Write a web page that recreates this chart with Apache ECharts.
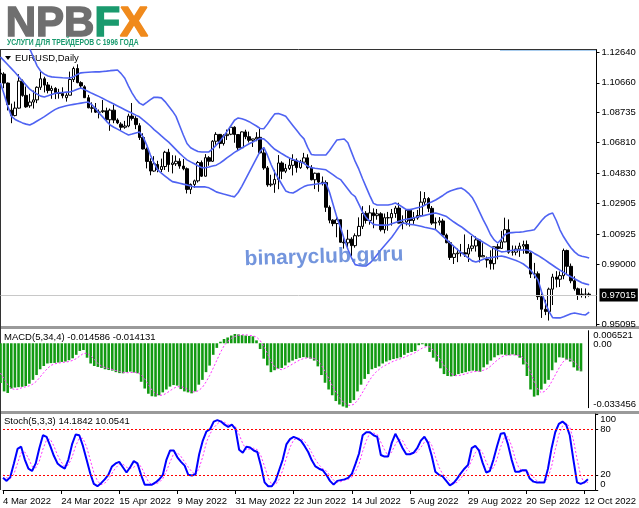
<!DOCTYPE html>
<html><head><meta charset="utf-8">
<script src="https://cdn.jsdelivr.net/npm/echarts/dist/echarts.min.js"></script>
<style>html,body{margin:0;padding:0;background:#fff}#c{width:639px;height:508px}</style>
</head><body><div id="c"></div>
<script>
// ---- DATA (EURUSD, Daily) ----
const tickLabels = ['4 Mar 2022','24 Mar 2022','15 Apr 2022','9 May 2022','31 May 2022','22 Jun 2022','14 Jul 2022','5 Aug 2022','29 Aug 2022','20 Sep 2022','12 Oct 2022'];
const priceTicks = [1.12640,1.10660,1.08735,1.06810,1.04830,1.02905,1.00925,0.99000,0.95095];
const macdRange = [-0.033456, 0.006521];
const macdZero = [0];
const stochRange = [0, 100];
const stochLevels = [20, 80];
const lastPrice = 0.97015;

const opens = [1.1128,1.1122,1.1064,1.0890,1.0855,1.0903,1.1077,1.0985,1.0918,1.0942,
1.0956,1.1037,1.1092,1.1052,1.1016,1.1030,1.1004,1.0997,1.0970,1.0986,
1.1087,1.1158,1.1067,1.1040,1.0970,1.0905,1.0902,1.0877,1.0880,1.0886,
1.0828,1.0890,1.0826,1.0800,1.0780,1.0788,1.0852,1.0837,1.0790,1.0714,
1.0640,1.0560,1.0498,1.0540,1.0508,1.0527,1.0619,1.0540,1.0545,1.0561,
1.0530,1.0513,1.0380,1.0412,1.0435,1.0553,1.0465,1.0584,1.0561,1.0690,
1.0734,1.0675,1.0726,1.0735,1.0780,1.0733,1.0648,1.0750,1.0719,1.0696,
1.0705,1.0715,1.0615,1.0518,1.0409,1.0414,1.0444,1.0550,1.0497,1.0515,
1.0535,1.0567,1.0520,1.0555,1.0583,1.0520,1.0442,1.0484,1.0427,1.0424,
1.0265,1.0182,1.0160,1.0185,1.0040,1.0036,1.0060,1.0018,1.0082,1.0142,
1.0226,1.0180,1.0229,1.0211,1.0223,1.0121,1.0198,1.0197,1.0225,1.0260,
1.0163,1.0170,1.0246,1.0180,1.0196,1.0212,1.0298,1.0321,1.0258,1.0163,
1.0168,1.0177,1.0086,1.0037,0.9942,0.9966,0.9971,0.9972,0.9964,1.0001,
1.0016,1.0055,0.9946,0.9930,0.9925,0.9902,1.0011,1.0000,1.0042,1.0121,
0.9976,0.9976,0.9996,1.0015,1.0025,0.9970,0.9835,0.9837,0.9690,0.9609,
0.9594,0.9738,0.9816,0.9802,0.9825,0.9987,0.9885,0.9792,0.9740,0.9702,
0.9706,0.9706];
const highs = [1.1156,1.1134,1.1068,1.0932,1.0945,1.1121,1.1087,1.1042,1.0995,1.1016,
1.1043,1.1137,1.1105,1.1071,1.1047,1.1038,1.1027,1.1037,1.0999,1.1138,
1.1170,1.1185,1.1076,1.1050,1.0988,1.0940,1.0936,1.0894,1.0955,1.0906,
1.0900,1.0925,1.0837,1.0812,1.0821,1.0867,1.0936,1.0851,1.0806,1.0741,
1.0650,1.0580,1.0594,1.0564,1.0578,1.0628,1.0641,1.0600,1.0598,1.0580,
1.0576,1.0521,1.0418,1.0443,1.0563,1.0566,1.0607,1.0594,1.0697,1.0748,
1.0736,1.0735,1.0765,1.0787,1.0786,1.0736,1.0753,1.0764,1.0752,1.0705,
1.0748,1.0774,1.0639,1.0530,1.0474,1.0506,1.0601,1.0561,1.0544,1.0582,
1.0606,1.0580,1.0570,1.0615,1.0606,1.0536,1.0488,1.0486,1.0463,1.0438,
1.0277,1.0188,1.0200,1.0186,1.0072,1.0120,1.0072,1.0097,1.0200,1.0272,
1.0240,1.0278,1.0258,1.0254,1.0233,1.0225,1.0235,1.0254,1.0274,1.0294,
1.0213,1.0254,1.0253,1.0235,1.0248,1.0368,1.0363,1.0330,1.0273,1.0199,
1.0202,1.0191,1.0096,1.0049,1.0018,0.9999,1.0029,1.0090,1.0028,1.0080,
1.0078,1.0057,1.0034,0.9948,0.9988,1.0011,1.0030,1.0113,1.0198,1.0187,
1.0019,1.0018,1.0037,1.0050,1.0051,0.9976,0.9907,0.9852,0.9710,0.9670,
0.9748,0.9837,0.9854,0.9852,0.9999,0.9992,0.9903,0.9821,0.9748,0.9744,
0.9743,0.9716];
const lows = [1.1057,1.1031,1.0888,1.0806,1.0850,1.0900,1.0976,1.0905,1.0905,1.0900,
1.0935,1.1020,1.1004,1.0998,1.0963,1.0961,1.0964,1.0966,1.0945,1.0986,
1.1071,1.1063,1.1027,1.0968,1.0902,1.0874,1.0872,1.0837,1.0872,1.0821,
1.0757,1.0806,1.0800,1.0760,1.0770,1.0780,1.0823,1.0768,1.0698,1.0637,
1.0515,1.0471,1.0493,1.0490,1.0492,1.0505,1.0493,1.0483,1.0531,1.0513,
1.0503,1.0354,1.0350,1.0389,1.0424,1.0460,1.0462,1.0532,1.0557,1.0667,
1.0644,1.0662,1.0698,1.0729,1.0680,1.0627,1.0642,1.0703,1.0682,1.0653,
1.0690,1.0612,1.0506,1.0397,1.0397,1.0358,1.0381,1.0446,1.0485,1.0505,
1.0470,1.0488,1.0512,1.0549,1.0509,1.0438,1.0382,1.0365,1.0405,1.0235,
1.0162,1.0143,1.0072,1.0038,0.9999,0.9998,0.9952,1.0005,1.0076,1.0125,
1.0160,1.0153,1.0130,1.0185,1.0109,1.0097,1.0114,1.0147,1.0197,1.0161,
1.0123,1.0148,1.0141,1.0158,1.0185,1.0202,1.0273,1.0234,1.0152,1.0123,
1.0148,1.0078,1.0033,0.9926,0.9900,0.9912,0.9948,0.9946,0.9913,0.9981,
0.9980,0.9910,0.9945,0.9877,0.9864,0.9864,0.9930,1.0000,1.0040,0.9966,
0.9954,0.9956,0.9946,0.9966,0.9966,0.9810,0.9807,0.9669,0.9553,0.9571,
0.9536,0.9636,0.9749,0.9752,0.9802,0.9835,0.9776,0.9728,0.9669,0.9684,
0.9680,0.9690];
const closes = [1.1122,1.1064,1.0926,1.0855,1.0903,1.1077,1.0985,1.0911,1.0942,1.0956,
1.1037,1.1092,1.1051,1.1016,1.1030,1.1004,1.0997,1.0983,1.0986,1.1087,
1.1158,1.1067,1.1046,1.0970,1.0905,1.0902,1.0877,1.0877,1.0886,1.0828,
1.0890,1.0826,1.0808,1.0780,1.0788,1.0852,1.0837,1.0797,1.0714,1.0640,
1.0560,1.0498,1.0545,1.0508,1.0527,1.0619,1.0540,1.0550,1.0561,1.0530,
1.0513,1.0380,1.0412,1.0435,1.0553,1.0465,1.0584,1.0561,1.0690,1.0734,
1.0675,1.0726,1.0735,1.0780,1.0733,1.0648,1.0750,1.0719,1.0696,1.0705,
1.0715,1.0615,1.0518,1.0409,1.0414,1.0444,1.0550,1.0497,1.0515,1.0535,
1.0567,1.0520,1.0555,1.0583,1.0520,1.0442,1.0484,1.0427,1.0424,1.0265,
1.0182,1.0160,1.0185,1.0040,1.0036,1.0060,1.0018,1.0082,1.0142,1.0226,
1.0180,1.0229,1.0211,1.0223,1.0121,1.0198,1.0197,1.0225,1.0260,1.0163,
1.0170,1.0246,1.0180,1.0196,1.0212,1.0298,1.0321,1.0258,1.0163,1.0168,
1.0177,1.0086,1.0037,0.9942,0.9966,0.9971,0.9972,0.9964,1.0001,1.0016,
1.0055,0.9946,0.9954,0.9925,0.9902,1.0011,1.0000,1.0042,1.0121,0.9976,
0.9976,0.9996,1.0015,1.0025,0.9970,0.9835,0.9837,0.9690,0.9609,0.9594,
0.9738,0.9816,0.9802,0.9825,0.9987,0.9885,0.9792,0.9740,0.9702,0.9706,
0.9706,0.97015];

const bbUpper = [1.1480,1.1460,1.1440,1.1420,1.1400,1.1375,1.1345,1.1315,1.1285,1.1230,
1.1175,1.1140,1.1122,1.1110,1.1104,1.1102,1.1100,1.1098,1.1097,1.1097,
1.1105,1.1120,1.1130,1.1132,1.1134,1.1135,1.1136,1.1136,1.1139,1.1141,
1.1144,1.1146,1.1148,1.1125,1.1095,1.1045,1.1000,1.0962,1.0935,1.0923,
1.0940,1.0958,1.0973,1.0972,1.0969,1.0945,1.0915,1.0885,1.0850,1.0790,
1.0730,1.0675,1.0648,1.0635,1.0624,1.0621,1.0621,1.0621,1.0640,1.0665,
1.0690,1.0720,1.0755,1.0790,1.0825,1.0840,1.0834,1.0826,1.0816,1.0802,
1.0788,1.0772,1.0770,1.0800,1.0835,1.0866,1.0868,1.0860,1.0850,1.0820,
1.0790,1.0760,1.0730,1.0705,1.0650,1.0605,1.0601,1.0601,1.0601,1.0601,
1.0630,1.0665,1.0698,1.0701,1.0704,1.0680,1.0620,1.0560,1.0510,1.0450,
1.0395,1.0340,1.0290,1.0280,1.0280,1.0280,1.0280,1.0285,1.0292,1.0280,
1.0265,1.0250,1.0250,1.0256,1.0262,1.0267,1.0278,1.0290,1.0300,1.0312,
1.0326,1.0341,1.0358,1.0370,1.0378,1.0385,1.0389,1.0375,1.0355,1.0328,
1.0285,1.0235,1.0185,1.0140,1.0090,1.0055,1.0035,1.0060,1.0090,1.0100,
1.0102,1.0104,1.0105,1.0108,1.0112,1.0116,1.0120,1.0150,1.0180,1.0205,
1.0220,1.0228,1.0180,1.0120,1.0075,1.0038,1.0005,0.9978,0.9958,0.9950,
0.9945,0.9939];
const bbMiddle = [1.1232,1.1207,1.1182,1.1157,1.1132,1.1105,1.1078,1.1051,1.1025,1.1008,
1.0993,1.0980,1.0975,1.0982,1.0990,1.0998,1.1002,1.1004,1.1006,1.1007,
1.1015,1.1025,1.1033,1.1022,1.1010,1.0998,1.0988,1.0977,1.0965,1.0953,
1.0941,1.0929,1.0917,1.0905,1.0893,1.0881,1.0870,1.0858,1.0847,1.0827,
1.0808,1.0788,1.0765,1.0745,1.0724,1.0704,1.0684,1.0660,1.0636,1.0612,
1.0590,1.0570,1.0557,1.0545,1.0532,1.0520,1.0519,1.0524,1.0530,1.0536,
1.0549,1.0566,1.0584,1.0601,1.0618,1.0632,1.0646,1.0660,1.0674,1.0685,
1.0697,1.0707,1.0705,1.0685,1.0660,1.0638,1.0624,1.0609,1.0595,1.0582,
1.0572,1.0565,1.0557,1.0548,1.0530,1.0520,1.0516,1.0513,1.0510,1.0506,
1.0490,1.0473,1.0456,1.0443,1.0413,1.0383,1.0352,1.0333,1.0285,1.0235,
1.0198,1.0175,1.0155,1.0151,1.0150,1.0150,1.0151,1.0159,1.0167,1.0175,
1.0183,1.0188,1.0192,1.0197,1.0202,1.0208,1.0213,1.0219,1.0224,1.0228,
1.0221,1.0214,1.0205,1.0187,1.0170,1.0154,1.0140,1.0122,1.0104,1.0086,
1.0068,1.0054,1.0040,1.0026,1.0012,1.0000,0.9988,0.9978,0.9980,0.9984,
0.9988,0.9990,0.9990,0.9990,0.9990,0.9982,0.9968,0.9955,0.9940,0.9925,
0.9908,0.9892,0.9876,0.9861,0.9846,0.9831,0.9818,0.9805,0.9792,0.9779,
0.9772,0.9767];
const bbLower = [1.1065,1.0990,1.0915,1.0850,1.0830,1.0818,1.0808,1.0800,1.0794,1.0806,
1.0820,1.0834,1.0848,1.0864,1.0880,1.0895,1.0906,1.0912,1.0918,1.0923,
1.0927,1.0931,1.0935,1.0939,1.0942,1.0925,1.0900,1.0870,1.0845,1.0818,
1.0794,1.0780,1.0768,1.0755,1.0742,1.0730,1.0736,1.0743,1.0749,1.0718,
1.0665,1.0601,1.0550,1.0505,1.0485,1.0466,1.0447,1.0430,1.0425,1.0420,
1.0414,1.0409,1.0402,1.0396,1.0396,1.0396,1.0396,1.0390,1.0378,1.0364,
1.0357,1.0350,1.0344,1.0337,1.0332,1.0360,1.0400,1.0445,1.0490,1.0535,
1.0580,1.0625,1.0650,1.0600,1.0540,1.0490,1.0450,1.0410,1.0370,1.0360,
1.0357,1.0370,1.0385,1.0398,1.0407,1.0410,1.0413,1.0416,1.0419,1.0421,
1.0360,1.0280,1.0200,1.0135,1.0060,0.9995,0.9940,0.9896,0.9890,0.9887,
0.9888,0.9905,0.9930,0.9960,0.9990,1.0018,1.0045,1.0072,1.0105,1.0140,
1.0164,1.0160,1.0155,1.0152,1.0148,1.0143,1.0137,1.0132,1.0127,1.0121,
1.0100,1.0078,1.0057,1.0035,1.0013,0.9992,0.9973,0.9955,0.9938,0.9920,
0.9913,0.9920,0.9930,0.9938,0.9941,0.9944,0.9948,0.9951,0.9946,0.9938,
0.9930,0.9922,0.9912,0.9900,0.9882,0.9860,0.9830,0.9797,0.9720,0.9649,
0.9595,0.9555,0.9553,0.9553,0.9560,0.9570,0.9580,0.9585,0.9580,0.9575,
0.9572,0.9591];

const macdHist = [-0.0206,-0.0250,-0.0258,-0.0235,-0.0230,-0.0228,-0.0226,-0.0222,-0.0210,-0.0190,
-0.0165,-0.0135,-0.0118,-0.0105,-0.0103,-0.0102,-0.0100,-0.0097,-0.0095,-0.0088,
-0.0078,-0.0060,-0.0040,-0.0035,-0.0075,-0.0105,-0.0118,-0.0123,-0.0128,-0.0135,
-0.0139,-0.0142,-0.0150,-0.0155,-0.0156,-0.0150,-0.0147,-0.0152,-0.0156,-0.0200,
-0.0235,-0.0262,-0.0275,-0.0277,-0.0270,-0.0255,-0.0240,-0.0225,-0.0217,-0.0220,
-0.0238,-0.0250,-0.0255,-0.0260,-0.0250,-0.0215,-0.0190,-0.0150,-0.0116,-0.0060,
-0.0024,0.0008,0.0022,0.0030,0.0040,0.0048,0.0046,0.0042,0.0040,0.0038,
0.0036,0.0015,-0.0030,-0.0080,-0.0115,-0.0150,-0.0140,-0.0132,-0.0128,-0.0115,
-0.0100,-0.0090,-0.0082,-0.0076,-0.0072,-0.0075,-0.0080,-0.0090,-0.0120,-0.0165,
-0.0205,-0.0240,-0.0270,-0.0300,-0.0318,-0.0328,-0.0335,-0.0310,-0.0295,-0.0250,
-0.0215,-0.0185,-0.0160,-0.0135,-0.0128,-0.0120,-0.0105,-0.0095,-0.0088,-0.0082,
-0.0078,-0.0073,-0.0060,-0.0050,-0.0045,-0.0040,-0.0010,-0.0005,-0.0015,-0.0045,
-0.0075,-0.0095,-0.0130,-0.0160,-0.0170,-0.0172,-0.0170,-0.0160,-0.0155,-0.0150,
-0.0145,-0.0142,-0.0145,-0.0148,-0.0125,-0.0110,-0.0090,-0.0073,-0.0062,-0.0058,
-0.0060,-0.0062,-0.0058,-0.0062,-0.0075,-0.0110,-0.0170,-0.0240,-0.0277,-0.0270,
-0.0240,-0.0210,-0.0190,-0.0140,-0.0100,-0.0073,-0.0075,-0.0085,-0.0095,-0.0125,
-0.0142,-0.014586];
const macdSignal = [-0.0155,-0.0185,-0.0215,-0.0235,-0.0240,-0.0238,-0.0230,-0.0226,-0.0221,-0.0212,
-0.0197,-0.0175,-0.0152,-0.0131,-0.0115,-0.0107,-0.0103,-0.0100,-0.0098,-0.0095,
-0.0089,-0.0080,-0.0066,-0.0053,-0.0052,-0.0064,-0.0083,-0.0105,-0.0118,-0.0126,
-0.0131,-0.0136,-0.0142,-0.0146,-0.0151,-0.0153,-0.0152,-0.0151,-0.0151,-0.0164,
-0.0186,-0.0213,-0.0243,-0.0262,-0.0271,-0.0269,-0.0260,-0.0247,-0.0234,-0.0226,
-0.0225,-0.0231,-0.0241,-0.0251,-0.0254,-0.0245,-0.0229,-0.0201,-0.0168,-0.0129,
-0.0088,-0.0048,-0.0013,0.0009,0.0025,0.0035,0.0041,0.0044,0.0044,0.0041,
0.0039,0.0032,0.0015,-0.0015,-0.0052,-0.0094,-0.0121,-0.0134,-0.0137,-0.0129,
-0.0119,-0.0108,-0.0097,-0.0087,-0.0080,-0.0076,-0.0076,-0.0079,-0.0091,-0.0114,
-0.0145,-0.0182,-0.0220,-0.0254,-0.0282,-0.0304,-0.0320,-0.0323,-0.0317,-0.0298,
-0.0268,-0.0236,-0.0203,-0.0174,-0.0152,-0.0136,-0.0122,-0.0112,-0.0102,-0.0093,
-0.0086,-0.0080,-0.0073,-0.0065,-0.0057,-0.0049,-0.0036,-0.0025,-0.0018,-0.0019,
-0.0035,-0.0058,-0.0086,-0.0115,-0.0139,-0.0158,-0.0168,-0.0168,-0.0164,-0.0159,
-0.0153,-0.0148,-0.0146,-0.0145,-0.0140,-0.0132,-0.0118,-0.0100,-0.0084,-0.0071,
-0.0063,-0.0061,-0.0060,-0.0061,-0.0064,-0.0076,-0.0104,-0.0149,-0.0199,-0.0239,
-0.0257,-0.0249,-0.0228,-0.0195,-0.0160,-0.0126,-0.0097,-0.0083,-0.0082,-0.0095,
-0.0112,-0.014131];

const stochMain = [16,12,17,35,54,57,40,28,25,35,
55,72,70,58,45,35,31,28,40,60,
73,72,58,40,22,8,5,9,14,20,
31,35,37,30,23,30,38,35,20,7,
7,7,10,14,20,40,52,52,43,37,
32,20,19,21,47,65,77,80,90,92,
90,86,83,86,80,53,49,57,56,52,
50,32,10,5,5,12,26,40,60,67,
70,68,65,58,50,39,31,28,26,20,
12,7,12,13,14,16,21,34,48,72,
76,76,72,70,46,44,44,62,74,65,
55,47,47,49,55,65,70,62,45,24,
20,18,12,6,9,15,22,28,33,55,
58,52,36,23,25,40,58,74,75,60,
40,24,24,26,26,15,11,10,10,10,
28,55,76,87,90,86,72,40,10,8,
10,14.1842];
const stochSignal = [20,16,15,21,35,49,50,42,31,29,
38,54,66,67,58,46,37,31,33,43,
58,68,68,57,40,23,12,7,9,14,
22,29,34,34,30,28,30,34,31,21,
11,7,8,10,15,25,37,48,49,44,
37,30,24,20,29,44,63,74,82,87,
91,89,86,85,83,73,61,53,54,55,
53,45,31,16,7,7,14,26,42,56,
66,68,68,64,58,49,40,33,28,25,
19,13,10,11,13,14,17,24,34,51,
65,75,75,73,63,53,45,50,60,67,
65,56,50,48,50,56,63,66,59,44,
30,21,17,12,9,10,15,22,28,39,
49,55,49,37,28,29,41,57,69,70,
58,41,29,25,25,22,17,12,10,10,
16,31,53,73,84,88,83,66,41,19,
9,10.0541];

// ---- build ----
const N = closes.length;
const categories = [];
{ const d = new Date(Date.UTC(2022, 2, 2));
  while (categories.length < N) { const w = d.getUTCDay(); if (w > 0 && w < 6) categories.push(d.toISOString().slice(0,10)); d.setUTCDate(d.getUTCDate()+1); }
  categories.push('', ''); }
const candles = closes.map((c,i)=>[opens[i], c, lows[i], highs[i]]);

const FONT = 'Liberation Sans';
const lbl = {fontFamily: FONT, fontSize: 9.5, color: '#000'};
const showTick = (i)=> i % 16 === 0 && i/16 < tickLabels.length;
const GL = 0.5, GW = 596;

function sideAxis(grid, min, max, values, fmt, rich, withLine, withTick) {
  return {type: 'value', gridIndex: grid, position: 'right', min: min, max: max,
    axisLine: {show: withLine, lineStyle: {color: '#000'}},
    axisTick: {show: withTick, customValues: values, length: 3, lineStyle: {color: '#000'}},
    axisLabel: {customValues: values, formatter: fmt, margin: 5, showMinLabel: true, showMaxLabel: true, ...lbl, rich: rich},
    splitLine: {show: false}};
}

const chart = echarts.init(document.getElementById('c'), null, {renderer:'canvas'});
chart.setOption({
  animation: false,
  backgroundColor: '#fff',
  grid: [
    {left: GL, width: GW, top: 50, height: 276},
    {left: GL, width: GW, top: 330.7, height: 77},
    {left: GL, width: GW, top: 414, height: 76}
  ],
  xAxis: [0,1,2].map(g => ({
    type: 'category', gridIndex: g, data: categories, boundaryGap: false,
    axisLine: {show: g === 2, lineStyle: {color: '#000'}},
    axisTick: {show: g === 2, interval: showTick, length: 4, lineStyle: {color: '#000'}},
    axisLabel: {show: g === 2, interval: showTick, formatter: (v, i) => tickLabels[i/16], align: 'left', margin: 6, ...lbl},
    splitLine: {show: false}
  })),
  yAxis: [
    sideAxis(0, 0.9501, 1.1277, priceTicks, v => v.toFixed(5), {}, true, true),
    sideAxis(1, macdRange[0], macdRange[1], macdRange,
      v => v > 0 ? '{t|' + v.toFixed(6) + '}' : '{b|' + v.toFixed(6) + '}',
      {t: {padding: [10,0,0,0], ...lbl}, b: {padding: [0,0,6,0], ...lbl}}, true, false),
    sideAxis(1, macdRange[0], macdRange[1], macdZero, () => '{z|0.00}', {z: {padding: [2,0,0,0], ...lbl}}, false, false),
    sideAxis(2, stochRange[0], stochRange[1], stochRange,
      v => v > 50 ? '{t|' + v + '}' : '{b|' + v + '}',
      {t: {padding: [10,0,0,0], ...lbl}, b: {padding: [0,0,12,0], ...lbl}}, true, true),
    sideAxis(2, stochRange[0], stochRange[1], stochLevels, v => String(v), {}, false, true)
  ],
  series: [
    {type: 'candlestick', xAxisIndex: 0, yAxisIndex: 0, data: candles, barWidth: 3,
     itemStyle: {color: '#ffffff', color0: '#000000', borderColor: '#000000', borderColor0: '#000000', borderWidth: 1},
     markLine: {symbol: 'none', silent: true, animation: false,
       lineStyle: {color: '#c8c8c8', type: 'solid', width: 1},
       label: {position: 'end', formatter: lastPrice.toFixed(5), backgroundColor: '#000', color: '#fff', padding: [2,2,1,2], distance: 3, fontFamily: FONT, fontSize: 9.5},
       data: [{yAxis: lastPrice}]}, z: 3},
    ...[bbUpper, bbMiddle, bbLower].map(d => ({type: 'line', xAxisIndex: 0, yAxisIndex: 0, data: d, symbol: 'none',
       lineStyle: {color: '#4f63f2', width: 1.6}, z: 4})),
    {type: 'bar', xAxisIndex: 1, yAxisIndex: 1, data: macdHist, barWidth: 2.6, itemStyle: {color: '#129a12'}},
    {type: 'line', xAxisIndex: 1, yAxisIndex: 1, data: macdSignal, symbol: 'none',
     lineStyle: {color: '#ff33ff', width: 1, type: [2,2]}, z: 4},
    {type: 'line', xAxisIndex: 2, yAxisIndex: 3, data: stochSignal, symbol: 'none',
     lineStyle: {color: '#ff33ff', width: 1, type: [2,2]}},
    {type: 'line', xAxisIndex: 2, yAxisIndex: 3, data: stochMain, symbol: 'none',
     lineStyle: {color: '#0000ff', width: 2}, z: 4,
     markLine: {symbol: 'none', silent: true, animation: false, label: {show: false},
       lineStyle: {color: '#ff0000', type: [2,2], width: 1}, data: stochLevels.map(v => ({yAxis: v}))}}
  ],
  graphic: [
    // panel splitters and frames
    {type: 'rect', shape: {x: 0, y: 326, width: 639, height: 3}, style: {fill: '#9a9a9a'}, silent: true},
    {type: 'rect', shape: {x: 0, y: 411, width: 639, height: 3}, style: {fill: '#9a9a9a'}, silent: true},
    {type: 'line', shape: {x1: 0, y1: 49.5, x2: 597, y2: 49.5}, style: {stroke: '#333', lineWidth: 1}, silent: true},
    {type: 'line', shape: {x1: 500, y1: 50.5, x2: 596, y2: 50.5}, style: {stroke: '#a9cdee', lineWidth: 1}, silent: true},
    {type: 'line', shape: {x1: 0.5, y1: 49, x2: 0.5, y2: 490}, style: {stroke: '#333', lineWidth: 1}, silent: true},
    // logo
    {type: 'text', left: 5, top: 3, silent: true,
     style: {text: '{a|NPB}{b|F}{c|X}', rich: {
       a: {fill: '#6f6f6f', stroke: '#6f6f6f', lineWidth: 1.5, font: 'bold 42px "Liberation Sans"'},
       b: {fill: '#1a9a6e', stroke: '#1a9a6e', lineWidth: 1.5, font: 'bold 42px "Liberation Sans"'},
       c: {fill: '#f08a1c', stroke: '#f08a1c', lineWidth: 1.5, font: 'bold 42px "Liberation Sans"'}}}},
    {type: 'text', x: 7, y: 38, scaleX: 0.8, silent: true,
     style: {text: 'УСЛУГИ ДЛЯ ТРЕЙДЕРОВ С 1996 ГОДА', fill: '#1a9a6e', font: 'bold 8.5px "Liberation Sans"'}},
    // labels
    {type: 'polygon', shape: {points: [[5,56],[11,56],[8,60]]}, style: {fill: '#000'}, silent: true},
    {type: 'text', left: 15, top: 53, silent: true, style: {text: 'EURUSD,Daily', fill: '#000', font: '9.5px "Liberation Sans"'}},
    {type: 'text', left: 4, top: 332, silent: true, style: {text: 'MACD(5,34,4) -0.014586 -0.014131', fill: '#000', font: '9.5px "Liberation Sans"'}},
    {type: 'text', left: 4, top: 416, silent: true, style: {text: 'Stoch(5,3,3) 14.1842 10.0541', fill: '#000', font: '9.5px "Liberation Sans"'}},
    // watermark
    {type: 'text', x: 324, y: 257, rotation: 0.03, silent: true, z: 100,
     style: {text: 'binaryclub.guru', fill: 'rgba(90,130,215,0.85)', font: 'bold 21px "Liberation Sans"', align: 'center', verticalAlign: 'middle'}}
  ]
});
</script></body></html>
